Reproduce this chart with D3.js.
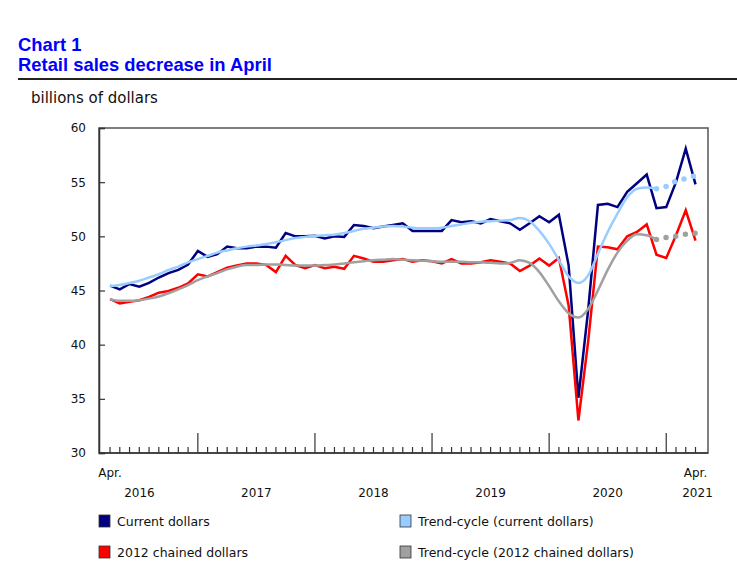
<!DOCTYPE html>
<html>
<head>
<meta charset="utf-8">
<script src="https://cdn.jsdelivr.net/npm/d3@7"></script>
<style>
  body { margin: 0; background: #fff; }
  svg { display: block; }
</style>
</head>
<body>
<svg id="chart"></svg>
<script>
// monthly, April 2016 to April 2021 (seasonally adjusted, billions)
var current = [45.45, 45.1, 45.6, 45.35, 45.7, 46.2, 46.6, 46.9, 47.4, 48.65, 48.1, 48.35,
  49.05, 48.9, 48.9, 49.05, 49.05, 48.95, 50.3, 50.0, 50.0, 50.05, 49.8, 50.0,
  49.95, 51.05, 50.95, 50.75, 50.9, 51.05, 51.2, 50.5, 50.5, 50.5, 50.5, 51.5,
  51.3, 51.4, 51.2, 51.6, 51.4, 51.2, 50.6, 51.2, 51.85, 51.3, 52.0, 47.3,
  35.1, 43.2, 52.9, 53.0, 52.7, 54.1, 54.9, 55.7, 52.6, 52.7, 55.0, 58.1, 54.8];

var trendCurrent = [45.4, 45.5, 45.7, 45.9, 46.2, 46.5, 46.9, 47.2, 47.6, 47.9, 48.2, 48.5,
  48.7, 48.9, 49.05, 49.15, 49.3, 49.45, 49.65, 49.85, 49.95, 50.05, 50.1, 50.15,
  50.3, 50.5, 50.7, 50.8, 50.9, 50.95, 50.9, 50.8, 50.75, 50.75, 50.8, 50.95,
  51.1, 51.25, 51.35, 51.4, 51.45, 51.5, 51.7, 51.4, 50.5, 49.3, 47.8, 46.3,
  45.7, 46.4, 48.4, 50.4, 52.1, 53.6, 54.4, 54.5, 54.4, 54.6, 55.1, 55.35, 55.6];

var chained = [44.2, 43.8, 43.95, 44.1, 44.4, 44.8, 44.95, 45.25, 45.65, 46.5, 46.3, 46.7,
  47.1, 47.3, 47.5, 47.5, 47.35, 46.7, 48.2, 47.35, 47.05, 47.35, 47.05, 47.2,
  47.0, 48.2, 47.95, 47.65, 47.65, 47.8, 47.9, 47.65, 47.8, 47.7, 47.5, 47.9,
  47.5, 47.5, 47.6, 47.8, 47.65, 47.5, 46.8, 47.3, 47.95, 47.3, 48.0, 43.6,
  33.0, 40.3, 49.05, 49.0, 48.8, 50.0, 50.4, 51.1, 48.3, 48.0, 50.1, 52.4, 49.6];

var trendChained = [44.2, 44.05, 44.05, 44.1, 44.25, 44.45, 44.75, 45.1, 45.5, 45.95, 46.3, 46.6,
  46.95, 47.2, 47.35, 47.35, 47.4, 47.4, 47.35, 47.3, 47.3, 47.3, 47.35, 47.4,
  47.5, 47.6, 47.7, 47.8, 47.85, 47.9, 47.85, 47.8, 47.75, 47.7, 47.65, 47.65,
  47.65, 47.6, 47.6, 47.55, 47.5, 47.55, 47.8, 47.55, 46.7, 45.4, 44.0, 42.9,
  42.5, 43.3, 45.0, 46.9, 48.5, 49.6, 50.2, 50.1, 49.7, 49.9, 50.0, 50.2, 50.3];

var months = d3.timeMonth.range(new Date(2016, 3, 1), new Date(2021, 4, 1));
var years = ["2016", "2017", "2018", "2019", "2020", "2021"];
var yTicks = [30, 35, 40, 45, 50, 55, 60];
var lastSolidTrend = 56; // trend-cycle dotted after Dec 2020

var seriesNames = ["Current dollars", "2012 chained dollars",
  "Trend-cycle (current dollars)", "Trend-cycle (2012 chained dollars)"];
var seriesColors = ["#000080", "#ff0000", "#99ccff", "#a0a0a0"];

var svgWidth = 737,
    svgHeight = 565,
    plotLeft = 99, plotRight = 708, plotTop = 128, plotBottom = 453;

var font = "Verdana, 'DejaVu Sans', sans-serif";

var svg = d3.select("#chart")
    .attr("width", svgWidth)
    .attr("height", svgHeight);

// titles
svg.append("text")
    .attr("x", 18).attr("y", 51)
    .attr("font-family", "Arial, 'Liberation Sans', sans-serif")
    .attr("font-weight", "bold").attr("font-size", 18.4)
    .attr("fill", "#0000ff")
    .text("Chart 1");
svg.append("text")
    .attr("x", 18).attr("y", 71)
    .attr("font-family", "Arial, 'Liberation Sans', sans-serif")
    .attr("font-weight", "bold").attr("font-size", 18.4)
    .attr("fill", "#0000ff")
    .text("Retail sales decrease in April");
svg.append("line")
    .attr("x1", 18).attr("x2", svgWidth)
    .attr("y1", 79).attr("y2", 79)
    .attr("stroke", "#222").attr("stroke-width", 2);

svg.append("text")
    .attr("x", 31).attr("y", 103)
    .attr("font-family", font).attr("font-size", 15)
    .attr("fill", "#111")
    .text("billions of dollars");

var x = d3.scaleLinear()
    .domain([-1.13, 61.28])
    .range([plotLeft, plotRight]);

var y = d3.scaleLinear()
    .domain([30, 60])
    .range([plotBottom, plotTop]);

// frame
svg.append("rect")
    .attr("x", plotLeft).attr("y", plotTop)
    .attr("width", plotRight - plotLeft).attr("height", plotBottom - plotTop)
    .attr("fill", "none")
    .attr("stroke", "#555").attr("stroke-width", 1.5);

// y axis
var yAxis = d3.axisLeft(y)
    .tickValues(yTicks)
    .tickSize(-6)
    .tickPadding(13);

var gy = svg.append("g")
    .attr("transform", "translate(" + plotLeft + ",0)")
    .call(yAxis);
gy.select(".domain").attr("stroke", "#333").attr("stroke-width", 1.5);
gy.selectAll(".tick line").attr("stroke", "#333").attr("stroke-width", 1.2);
gy.selectAll(".tick text")
    .attr("font-family", font).attr("font-size", 12).attr("fill", "#111");

// x axis: a tick on every month, taller ones at January
var gx = svg.append("g");
gx.append("line")
    .attr("x1", plotLeft).attr("x2", plotRight)
    .attr("y1", plotBottom).attr("y2", plotBottom)
    .attr("stroke", "#333").attr("stroke-width", 1.5);
gx.selectAll("line.tick")
    .data(months)
    .enter()
    .append("line")
    .attr("class", "tick")
    .attr("x1", function (d, i) { return x(i); })
    .attr("x2", function (d, i) { return x(i); })
    .attr("y1", plotBottom)
    .attr("y2", function (d) { return d.getMonth() == 0 ? plotBottom - 20 : plotBottom - 6; })
    .attr("stroke", "#333")
    .attr("stroke-width", 1.2);

// "Apr." at first and last month
gx.selectAll("text.month")
    .data([0, months.length - 1])
    .enter()
    .append("text")
    .attr("class", "month")
    .attr("x", function (i) { return x(i); })
    .attr("y", 477)
    .attr("text-anchor", "middle")
    .attr("font-family", font).attr("font-size", 12).attr("fill", "#111")
    .text("Apr.");

// year labels centered between January ticks
function yearPos(yr, k) {
  var idx = months.map(function (d, i) { return d.getFullYear() == +yr ? i : -1; })
    .filter(function (i) { return i >= 0; });
  if (k == 0) return x(idx[0]) + (x(idx[idx.length - 1] + 0.5) - x(idx[0])) / 2 - 12;
  if (k == years.length - 1) return x(idx[idx.length - 1]) + 2;
  return (x(idx[0]) + x(idx[idx.length - 1] + 1)) / 2;
}
gx.selectAll("text.year")
    .data(years)
    .enter()
    .append("text")
    .attr("class", "year")
    .attr("x", function (d, k) { return yearPos(d, k); })
    .attr("y", 497)
    .attr("text-anchor", "middle")
    .attr("font-family", font).attr("font-size", 12).attr("fill", "#111")
    .text(function (d) { return d; });

// lines
var line = d3.line()
    .x(function (d) { return x(d.i); })
    .y(function (d) { return y(d.v); });

function pts(arr, from, to) {
  return arr.map(function (v, i) { return { i: i, v: v }; })
    .filter(function (d) { return d.i >= from && d.i <= to; });
}

var n = months.length - 1;

svg.append("path")
    .datum(pts(current, 0, n))
    .attr("d", line)
    .attr("fill", "none")
    .attr("stroke", seriesColors[0])
    .attr("stroke-width", 2.5)
    .attr("stroke-linejoin", "miter");

svg.append("path")
    .datum(pts(chained, 0, n))
    .attr("d", line)
    .attr("fill", "none")
    .attr("stroke", seriesColors[1])
    .attr("stroke-width", 2.5)
    .attr("stroke-linejoin", "miter");

[[trendCurrent, seriesColors[2]], [trendChained, seriesColors[3]]].forEach(function (t) {
  svg.append("path")
      .datum(pts(t[0], 0, lastSolidTrend))
      .attr("d", line.curve(d3.curveMonotoneX))
      .attr("fill", "none")
      .attr("stroke", t[1])
      .attr("stroke-width", 2.5);
  svg.append("path")
      .datum(pts(t[0], lastSolidTrend, n))
      .attr("d", line.curve(d3.curveLinear))
      .attr("fill", "none")
      .attr("stroke", t[1])
      .attr("stroke-width", 5.5)
      .attr("stroke-linecap", "round")
      .attr("stroke-dasharray", "0, 9.8");
});

// legend
var legend = svg.append("g")
    .selectAll("g")
    .data(seriesNames)
    .enter()
    .append("g")
    .attr("transform", function (d, i) {
      var col = Math.floor(i / 2), row = i % 2;
      return "translate(" + (col == 0 ? 99 : 400) + "," + (515 + row * 31) + ")";
    });
legend.append("rect")
    .attr("width", 11).attr("height", 12)
    .attr("fill", function (d, i) { return seriesColors[i]; })
    .attr("stroke", "#333").attr("stroke-width", 0.8);
legend.append("text")
    .attr("x", 18).attr("y", 11)
    .attr("font-family", font).attr("font-size", 12.5).attr("fill", "#111")
    .text(function (d) { return d; });
</script>
</body>
</html>
